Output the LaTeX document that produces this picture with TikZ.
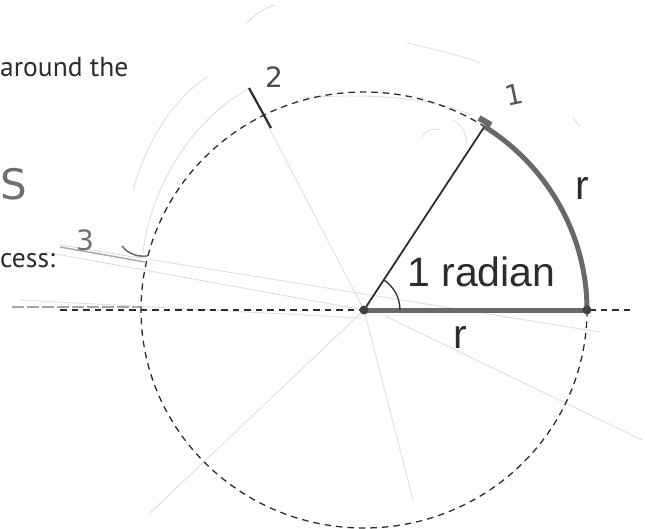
\documentclass[tikz,border=0pt]{standalone}
\usepackage{fontspec}
\setmainfont{PT Sans}
\newfontfamily\arialfont{Liberation Sans}
\newfontfamily\handfont{DejaVu Sans}
\definecolor{inkdark}{RGB}{45,45,45}
\definecolor{arcgray}{RGB}{105,105,105}
\definecolor{pencil}{RGB}{222,222,222}
\tikzset{
  pencilline/.style={color=pencil,line width=0.9,line cap=round},
  dashcircle/.style={color=inkdark,line width=1.3,dash pattern=on 6.5pt off 5pt},
  thickarc/.style={color=arcgray,line width=5},
  endpt/.style={circle,fill=inkdark!90,inner sep=0pt,minimum size=9pt},
  bigtext/.style={inner sep=0pt,font=\arialfont\fontsize{41}{42}\selectfont,text=inkdark},
  worktext/.style={inner sep=0pt,font=\fontsize{27.5}{30}\selectfont,text=inkdark},
  handtext/.style={inner sep=0pt,font=\handfont\fontsize{28}{28}\selectfont}
}
\begin{document}
\begin{tikzpicture}[x=1pt,y=1pt,yscale=-1,xscale=1]
    \useasboundingbox (0,0) rectangle (645,529);
    % points of the figure
    \coordinate (O) at (364,310);
    \coordinate (A) at (587,310);
    \coordinate (B) at (484.5,126.5);
    \coordinate (C) at (400,310);
    \coordinate (L) at (60,310);
    \coordinate (R) at (630,310);
    % faint pencil marks
    \draw [pencilline] (O) -- (265,120) ;
    \draw [pencilline] (O) -- (150,513) ;
    \draw [pencilline] (O) -- (413,500) ;
    \draw [pencilline] (385,316) -- (642,440) ;
    \draw [pencilline] (60,245) -- (600,332) ;
    \draw [pencilline] (45,252) -- (O) ;
    \draw [pencilline] (20,300) -- (360,318) ;
    \draw [pencilline] (143,253) .. controls (150,190) and (190,120) .. (250,88) ;
    \draw [pencilline] (133,190) .. controls (150,130) and (180,95) .. (207,77) ;
    \draw [pencilline] (247,23) .. controls (255,14) and (265,8) .. (275,5) ;
    \draw [pencilline] (407,43) .. controls (430,48) and (460,55) .. (480,63) ;
    \draw [pencilline] (300,98) .. controls (380,92) and (440,100) .. (470,115) ;
    \draw [pencilline] (423,137) .. controls (425,130) and (432,128) .. (440,130) ;
    \draw [pencilline] (453,120) .. controls (462,125) and (466,133) .. (467,143) ;
    \draw [pencilline] (573,117) -- (580,127) ;
    \draw [color=pencil!75!black,line width=1.4,dash pattern=on 12pt off 3pt] (12,307) -- (140,307) ;
    \draw [color=pencil!75!black,line width=1.4] (60,247) -- (145,262) ;
    % circle and axis
    \draw [dashcircle] (O) ellipse [x radius=223,y radius=218] ;
    \draw [dashcircle] (L) -- (R) ;
    % one radian
    \draw [color=inkdark,line width=1.8] (O) -- (B) ;
    \draw [thickarc] (A) arc [start angle=0,end angle=-57.3,x radius=223,y radius=218] ;
    \draw [thickarc] (O) -- (A) ;
    \draw [color=inkdark,line width=1.3] (C) arc [start angle=0,end angle=-57.3,radius=36] ;
    \node [endpt] (dotO) at (O) {};
    \node [endpt] (dotA) at (A) {};
    % marks on the circle
    \draw [color=arcgray,line width=6] (479,118) -- (491,125) ;
    \draw [color=inkdark,line width=2.2] (249,88) -- (271,128) ;
    \draw [color=pencil!50!black,line width=1.6] (122,246) .. controls (128,254) and (138,257) .. (147,256) ;
    % labels
    \node [bigtext,anchor=base west] (radian) at (407,287) {1 radian};
    \node [bigtext,anchor=base west] (rarc) at (575,200) {r};
    \node [bigtext,anchor=base west] (rline) at (453,348) {r};
    \node [worktext,anchor=base west] (around) at (0,77) {around the};
    \node [worktext,anchor=base west] (cess) at (0,268) {cess:};
    \node [handtext,anchor=base west,text=inkdark!85] (two) at (265,88) {2};
    \node [handtext,anchor=base west,text=pencil!40!black,rotate=12] (one) at (507,107) {1};
    \node [handtext,anchor=base west,text=pencil!50!black] (three) at (76,251) {3};
    \node [handtext,anchor=base west,text=pencil!50!black,font=\handfont\fontsize{42}{42}\selectfont] (ess) at (0,200) {S};
\end{tikzpicture}
\end{document}
